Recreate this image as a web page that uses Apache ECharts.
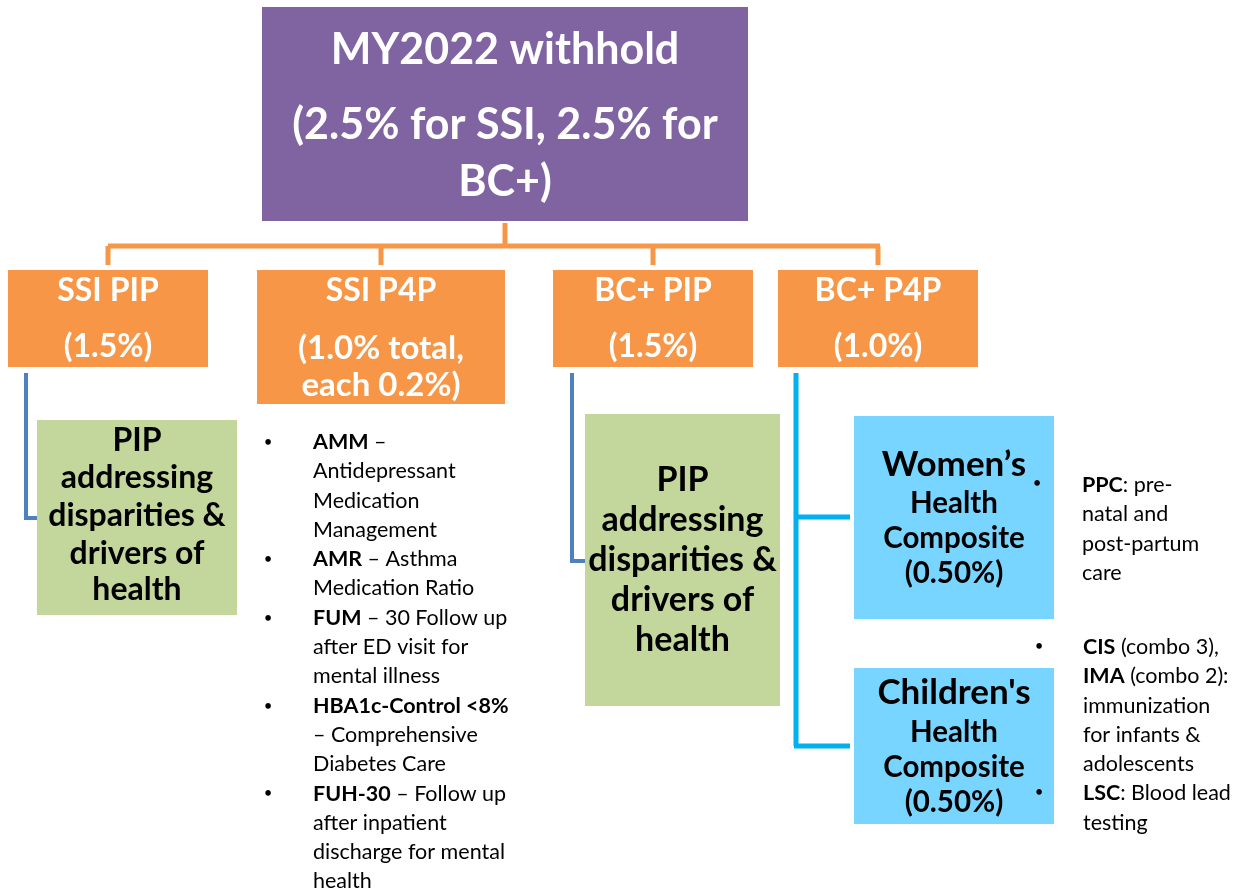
<!DOCTYPE html>
<html><head><meta charset="utf-8">
<script src="https://cdn.jsdelivr.net/npm/echarts@6/dist/echarts.min.js"></script>
<style>html,body{margin:0;padding:0;background:#fff}#c{width:1253px;height:893px}</style>
</head><body><div id="c"></div>
<script>
// ---------- content ----------
const rootLines = ['MY2022 withhold', '(2.5% for SSI, 2.5% for', 'BC+)'];
const programLines = [
  ['SSI PIP', '(1.5%)'],
  ['SSI P4P', '(1.0% total,', 'each 0.2%)'],
  ['BC+ PIP', '(1.5%)'],
  ['BC+ P4P', '(1.0%)']
];
const pipLines = ['PIP', 'addressing', 'disparities &', 'drivers of', 'health'];
const compositeLines = [
  ['Women\u2019s', 'Health', 'Composite', '(0.50%)'],
  ["Children's", 'Health', 'Composite', '(0.50%)']
];
const ssiMeasures = [
  ['{b|AMM} \u2013', 'Antidepressant', 'Medication', 'Management'],
  ['{b|AMR} \u2013 Asthma', 'Medication Ratio'],
  ['{b|FUM} \u2013 30 Follow up', 'after ED visit for', 'mental illness'],
  ['{b|HBA1c-Control <8%}', '\u2013 Comprehensive', 'Diabetes Care'],
  ['{b|FUH-30} \u2013 Follow up', 'after inpatient', 'discharge for mental', 'health']
];
const womenMeasures = [['{b|PPC}: pre-', 'natal and', 'post-partum', 'care']];
const childrenMeasures = [
  ['{b|CIS} (combo 3),', '{b|IMA} (combo 2):', 'immunization', 'for infants &', 'adolescents'],
  ['{b|LSC}: Blood lead', 'testing']
];

// ---------- layout (pixel space of the slide) ----------
const FONT = 'Lato, "Open Sans", sans-serif';
const LIST_FONT_SIZE = 21.5;
const boxRects = [
  [262, 7, 748, 221],
  [8, 270, 208, 367], [257, 270, 505, 404], [553, 270, 753, 367], [778, 270, 978, 367],
  [37, 420, 237, 615], [585, 414, 780, 706],
  [854, 416, 1054, 619], [854, 668, 1054, 824]
];
const boxFill = ['#8064A2', '#F79646', '#F79646', '#F79646', '#F79646', '#C3D69B', '#C3D69B', '#77D5FF', '#77D5FF'];
const boxTextColor = ['#fff', '#fff', '#fff', '#fff', '#fff', '#000', '#000', '#000', '#000'];
const boxText = [rootLines].concat(programLines, [pipLines, pipLines], compositeLines);
const boxLineY = [
  [50, 125, 182],
  [291, 347], [291, 348, 385], [291, 347], [291, 347],
  [441, 478, 516, 554, 590], [480, 520, 560, 600, 640],
  [465, 503, 538, 573], [693, 732, 767, 802]
];
const boxFontSize = [
  [43, 43, 43],
  [32, 32], [32, 33, 33], [32, 32], [32, 32],
  [32, 32, 32, 32, 32], [34, 34, 34, 34, 34],
  [35, 29.5, 29.5, 29.5], [35, 29.5, 29.5, 29.5]
];
const listLayouts = [
  { items: ssiMeasures, bulletX: 268, textX: 313, startY: 442, lineH: 29.3, bulletDy: 0 },
  { items: womenMeasures, bulletX: 1037, textX: 1082, startY: 485, lineH: 29.3, bulletDy: -2 },
  { items: childrenMeasures, bulletX: 1039, textX: 1083, startY: 647, lineH: 29.3, bulletDy: -1 }
];
const connectors = [
  { color: '#F79646', width: 5, pts: [[505, 223], [505, 246]] },
  { color: '#F79646', width: 5, pts: [[108, 246], [880, 246]] },
  { color: '#F79646', width: 5, pts: [[108, 246], [108, 265]] },
  { color: '#F79646', width: 5, pts: [[381, 246], [381, 265]] },
  { color: '#F79646', width: 5, pts: [[653, 246], [653, 265]] },
  { color: '#F79646', width: 5, pts: [[878, 246], [878, 265]] },
  { color: '#4F81BD', width: 4, pts: [[26, 373], [26, 518], [37, 518]] },
  { color: '#4F81BD', width: 4, pts: [[572, 373], [572, 561], [585, 561]] },
  { color: '#00B0F0', width: 5, pts: [[796, 373], [796, 746]] },
  { color: '#00B0F0', width: 5, pts: [[796, 517], [850, 517]] },
  { color: '#00B0F0', width: 5, pts: [[794, 746], [850, 746]] }
];

// ---------- build text items for bullet lists ----------
const listText = [];
listLayouts.forEach(function (L) {
  let y = L.startY;
  L.items.forEach(function (item) {
    listText.push({ x: L.bulletX, y: y + L.bulletDy, text: '\u2022', align: 'center', size: 15 });
    item.forEach(function (line) {
      listText.push({ x: L.textX, y: y, text: line, align: 'left', size: LIST_FONT_SIZE });
      y += L.lineH;
    });
  });
});

const chart = echarts.init(document.getElementById('c'), null, { renderer: 'canvas' });
chart.setOption({
  animation: false,
  backgroundColor: '#ffffff',
  grid: { left: 0, right: 0, top: 0, bottom: 0 },
  xAxis: { type: 'value', min: 0, max: 1253, show: false },
  yAxis: { type: 'value', min: 0, max: 893, inverse: true, show: false },
  series: [
    {
      type: 'lines', coordinateSystem: 'cartesian2d', polyline: true, silent: true, z: 1,
      data: connectors.map(function (c) {
        return { coords: c.pts, lineStyle: { color: c.color, width: c.width, opacity: 1, cap: 'butt', join: 'miter' } };
      })
    },
    {
      type: 'custom', coordinateSystem: 'cartesian2d', silent: true, z: 2, clip: false,
      encode: { x: [0, 2], y: [1, 3] },
      data: boxRects,
      renderItem: function (params, api) {
        const i = params.dataIndex;
        const p0 = api.coord([api.value(0), api.value(1)]);
        const p1 = api.coord([api.value(2), api.value(3)]);
        const cx = (p0[0] + p1[0]) / 2;
        const children = [{
          type: 'rect',
          shape: { x: p0[0], y: p0[1], width: p1[0] - p0[0], height: p1[1] - p0[1] },
          style: { fill: boxFill[i] }
        }];
        boxText[i].forEach(function (line, k) {
          const py = api.coord([0, boxLineY[i][k]])[1];
          children.push({
            type: 'text', x: cx, y: py,
            style: {
              text: line, fill: boxTextColor[i], fontFamily: FONT, fontWeight: 'bold',
              fontSize: boxFontSize[i][k], align: 'center', verticalAlign: 'middle'
            }
          });
        });
        return { type: 'group', children: children };
      }
    },
    {
      type: 'custom', coordinateSystem: 'cartesian2d', silent: true, z: 3, clip: false,
      data: listText.map(function (t) { return [t.x, t.y]; }),
      renderItem: function (params, api) {
        const t = listText[params.dataIndex];
        const p = api.coord([api.value(0), api.value(1)]);
        return {
          type: 'text', x: p[0], y: p[1],
          style: {
            text: t.text, fill: '#000', fontFamily: FONT, fontSize: t.size, fontWeight: 'normal',
            align: t.align, verticalAlign: 'middle',
            rich: { b: { fontFamily: FONT, fontSize: t.size, fontWeight: 'bold', fill: '#000' } }
          }
        };
      }
    }
  ]
});
</script></body></html>
